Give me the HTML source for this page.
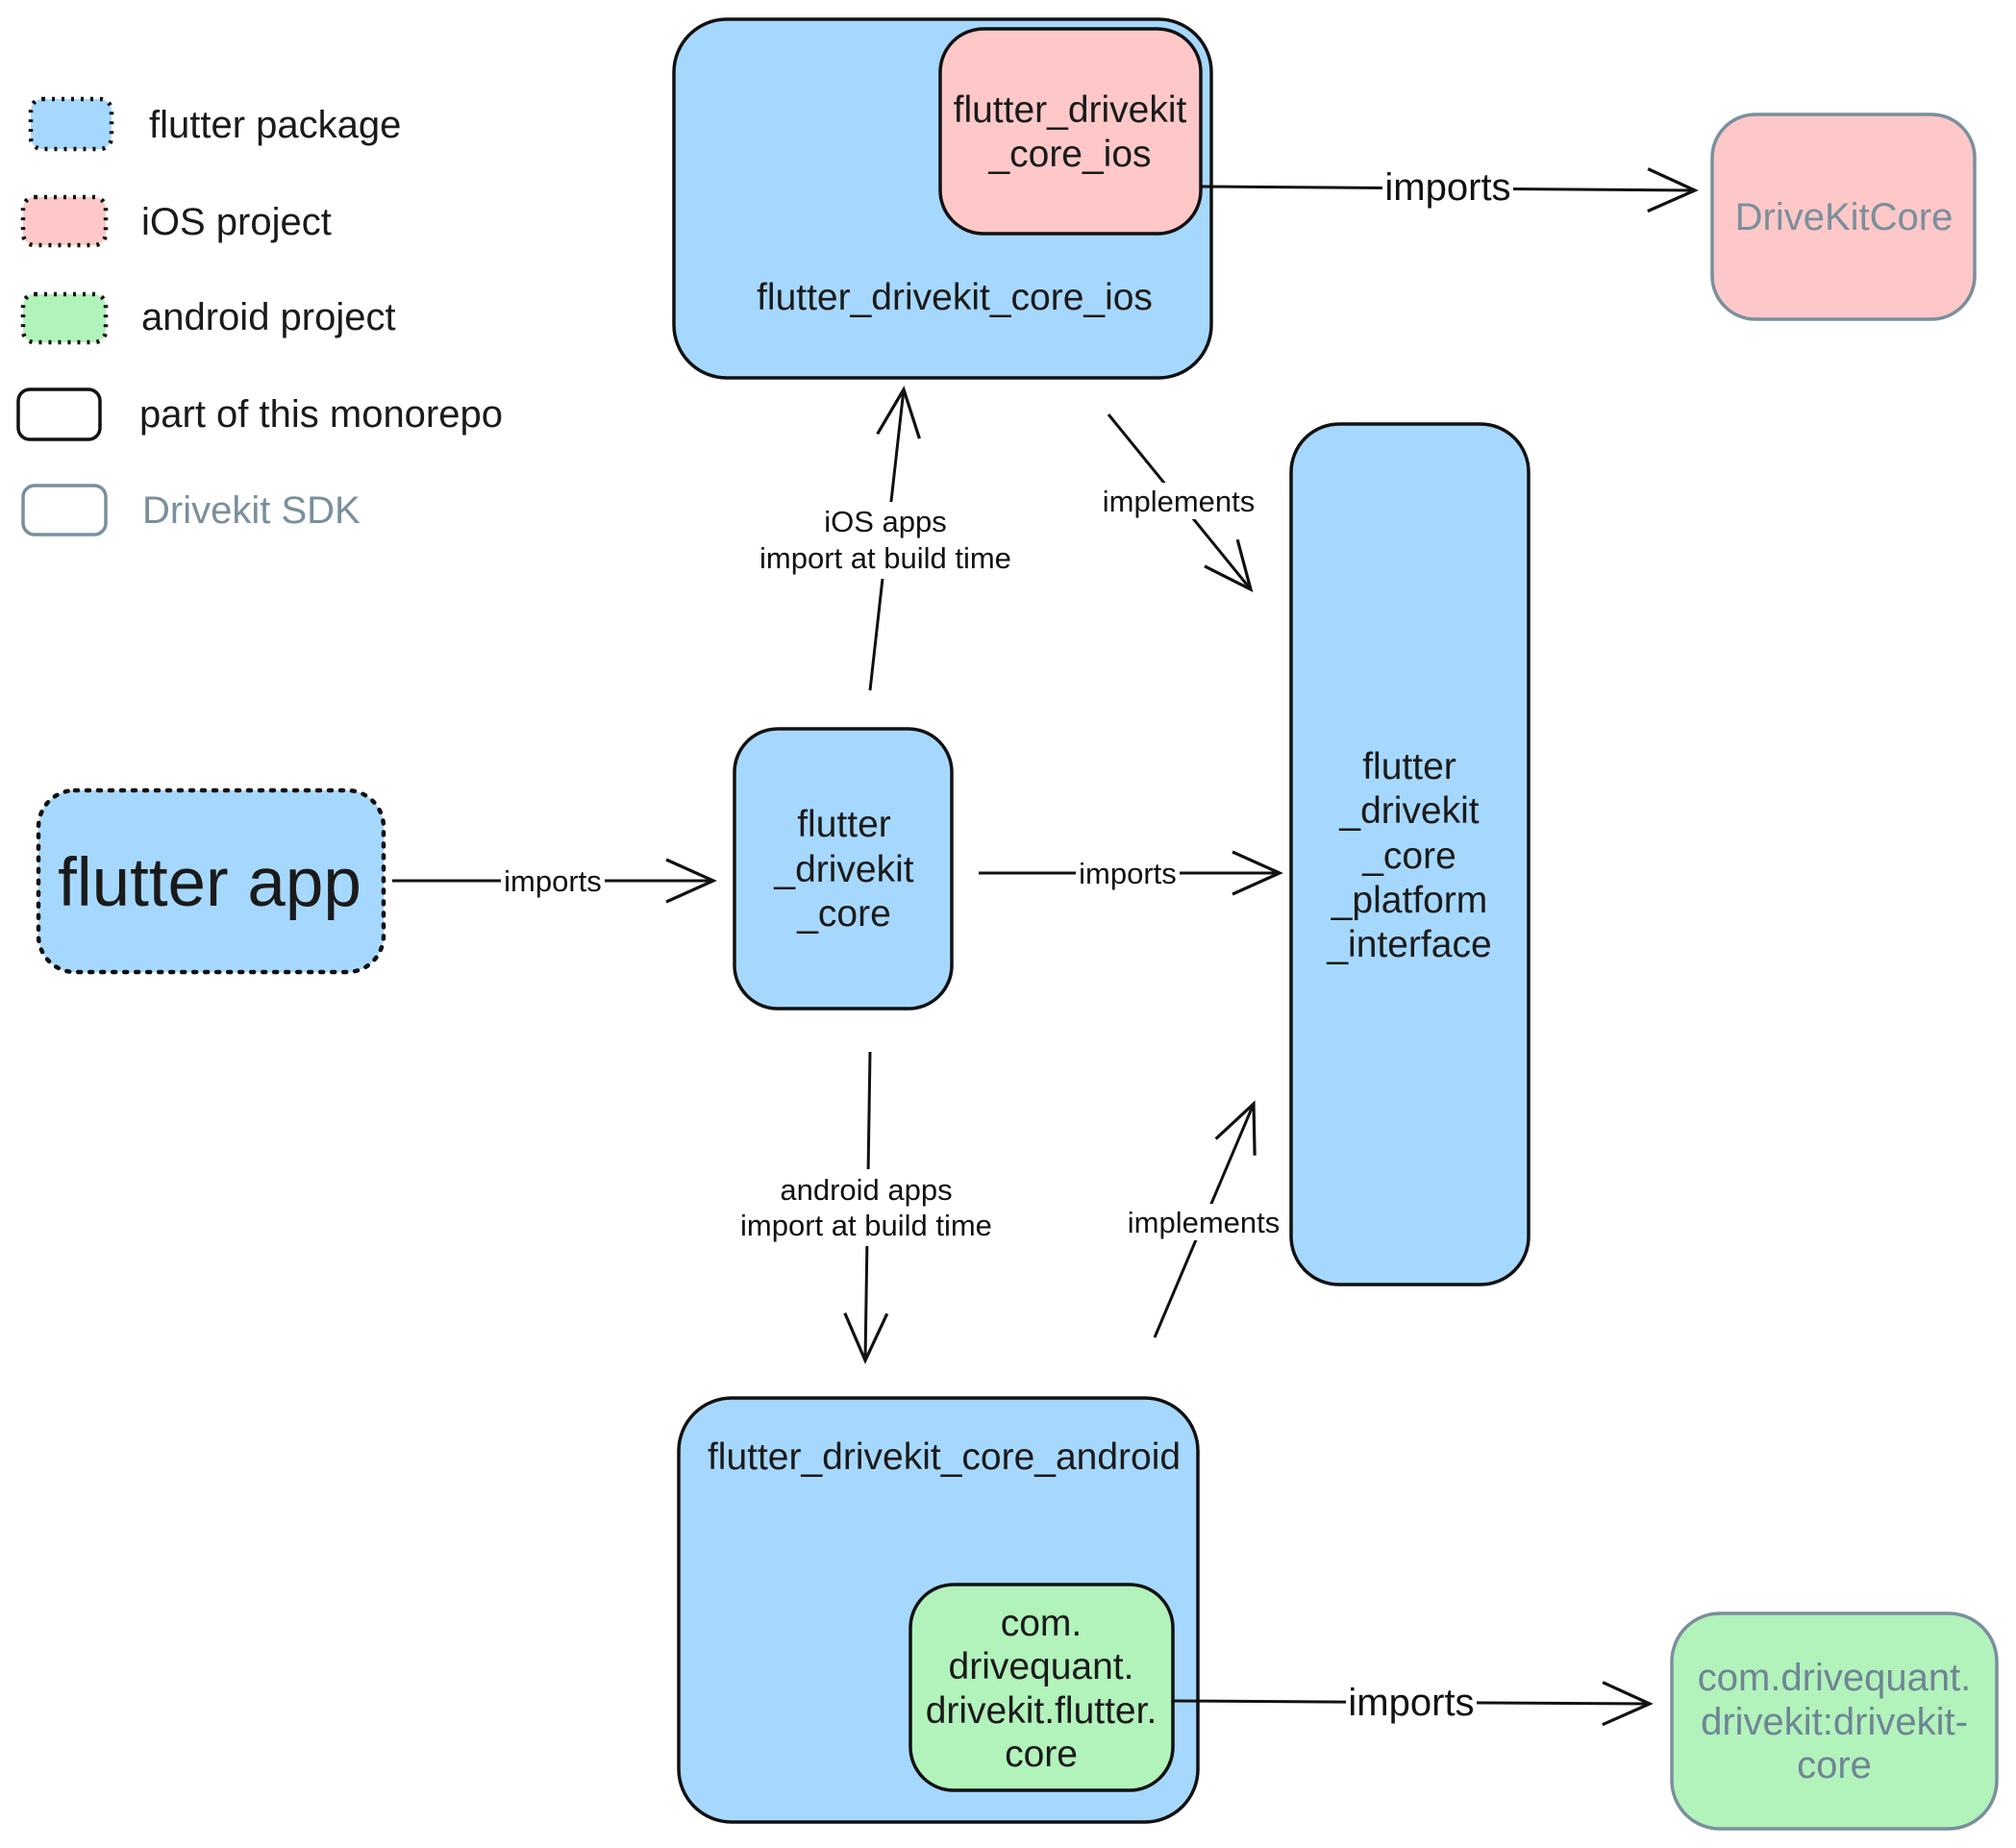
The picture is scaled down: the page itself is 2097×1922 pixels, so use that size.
<!DOCTYPE html>
<html><head><meta charset="utf-8"><style>
html,body{margin:0;padding:0;background:#fff;}
svg{display:block;font-family:"Liberation Sans",Arial,sans-serif;}
</style></head><body>
<svg width="2097" height="1922" viewBox="0 0 2097 1922" xmlns="http://www.w3.org/2000/svg">
<defs>
<marker id="ar" viewBox="0 0 20 20" refX="19" refY="10" markerWidth="20" markerHeight="20" markerUnits="userSpaceOnUse" orient="auto" overflow="visible">
<path d="M-30,-12 L19,10 L-30,32" fill="none" stroke="#111" stroke-width="3.2"/>
</marker>
</defs>
<g stroke-width="3.5">
<!-- legend -->
<rect x="32" y="103" width="84" height="52" rx="12" fill="#a6d8fe" stroke="#111" stroke-dasharray="3,7" stroke-width="4.5"/>
<rect x="24" y="205" width="86" height="50" rx="12" fill="#fec8c8" stroke="#111" stroke-dasharray="3,7" stroke-width="4.5"/>
<rect x="24" y="306" width="86" height="50" rx="12" fill="#b2f2bb" stroke="#111" stroke-dasharray="3,7" stroke-width="4.5"/>
<rect x="19" y="405" width="85" height="52" rx="12" fill="#fff" stroke="#111"/>
<rect x="24" y="505" width="86" height="51" rx="12" fill="#fff" stroke="#7a8f9c"/>
<rect x="701" y="20" width="559" height="373" rx="55" fill="#a6d8fe" stroke="#111"/>
<rect x="978" y="30" width="271" height="213" rx="45" fill="#fec8c8" stroke="#111"/>
<rect x="1781" y="119" width="273" height="213" rx="45" fill="#fec8c8" stroke="#7a8f9c"/>
<rect x="1343" y="441" width="247" height="895" rx="50" fill="#a6d8fe" stroke="#111"/>
<rect x="764" y="758" width="226" height="291" rx="45" fill="#a6d8fe" stroke="#111"/>
<rect x="40" y="822" width="359" height="189" rx="38" fill="#a6d8fe" stroke="#111" stroke-dasharray="3,9" stroke-width="4.5" stroke-linecap="round"/>
<rect x="706" y="1454" width="540" height="441" rx="55" fill="#a6d8fe" stroke="#111"/>
<rect x="947" y="1648" width="273" height="214" rx="45" fill="#b2f2bb" stroke="#111"/>
<rect x="1739" y="1678" width="338" height="224" rx="50" fill="#b2f2bb" stroke="#7a8f9c"/>
<g stroke="#111" fill="none" stroke-width="3">
<line x1="1249" y1="194" x2="1763" y2="198" marker-end="url(#ar)"/>
<line x1="408" y1="916" x2="742" y2="916" marker-end="url(#ar)"/>
<line x1="1018" y1="908" x2="1331" y2="908" marker-end="url(#ar)"/>
<line x1="905" y1="718" x2="940" y2="405" marker-end="url(#ar)"/>
<line x1="1153" y1="431" x2="1301" y2="613" marker-end="url(#ar)"/>
<line x1="905" y1="1094" x2="900" y2="1415" marker-end="url(#ar)"/>
<line x1="1201" y1="1391" x2="1304" y2="1148" marker-end="url(#ar)"/>
<line x1="1220" y1="1769" x2="1716" y2="1772" marker-end="url(#ar)"/>
</g>
</g>
<g fill="#fff">
<rect x="1438" y="170" width="136" height="46"/>
<rect x="521" y="898" width="108" height="34"/>
<rect x="1119" y="890" width="108" height="34"/>
<rect x="774" y="522" width="294" height="80"/>
<rect x="1136" y="502" width="180" height="38"/>
<rect x="754" y="1216" width="294" height="80"/>
<rect x="1164" y="1252" width="176" height="38"/>
<rect x="1400" y="1746" width="136" height="46"/>
</g>
<g fill="#111" text-anchor="middle">
<text x="1506" y="208" font-size="40">imports</text>
<text x="575" y="927" font-size="31">imports</text>
<text x="1173" y="919" font-size="31">imports</text>
<text x="921" y="553" font-size="31">iOS apps</text>
<text x="921" y="591" font-size="31">import at build time</text>
<text x="1226" y="532" font-size="31">implements</text>
<text x="901" y="1248" font-size="31">android apps</text>
<text x="901" y="1285" font-size="31">import at build time</text>
<text x="1252" y="1282" font-size="31">implements</text>
<text x="1468" y="1784" font-size="40">imports</text>
</g>
<g fill="#1a1a1a" font-size="40">
<text x="155" y="143">flutter package</text>
<text x="147" y="244">iOS project</text>
<text x="147" y="343">android project</text>
<text x="145" y="444">part of this monorepo</text>
<text x="148" y="544" fill="#7a8f9c">Drivekit SDK</text>
</g>
<g fill="#1a1a1a" font-size="39" text-anchor="middle">
<text x="1113" y="127">flutter_drivekit</text>
<text x="1113" y="173">_core_ios</text>
<text x="993" y="322">flutter_drivekit_core_ios</text>
<text x="1918" y="239" fill="#7a8f9c" font-size="40">DriveKitCore</text>
<text x="878" y="870">flutter</text>
<text x="878" y="917">_drivekit</text>
<text x="878" y="963">_core</text>
<text x="1466" y="810">flutter</text>
<text x="1466" y="856">_drivekit</text>
<text x="1466" y="903">_core</text>
<text x="1466" y="949">_platform</text>
<text x="1466" y="995">_interface</text>
<text x="218" y="942" font-size="71">flutter app</text>
<text x="982" y="1528">flutter_drivekit_core_android</text>
<text x="1083" y="1701">com.</text>
<text x="1083" y="1746">drivequant.</text>
<text x="1083" y="1792">drivekit.flutter.</text>
<text x="1083" y="1837">core</text>
<g fill="#6f8595" font-size="40">
<text x="1908" y="1758">com.drivequant.</text>
<text x="1908" y="1804">drivekit:drivekit-</text>
<text x="1908" y="1849">core</text>
</g>
</g>
</svg>
</body></html>
